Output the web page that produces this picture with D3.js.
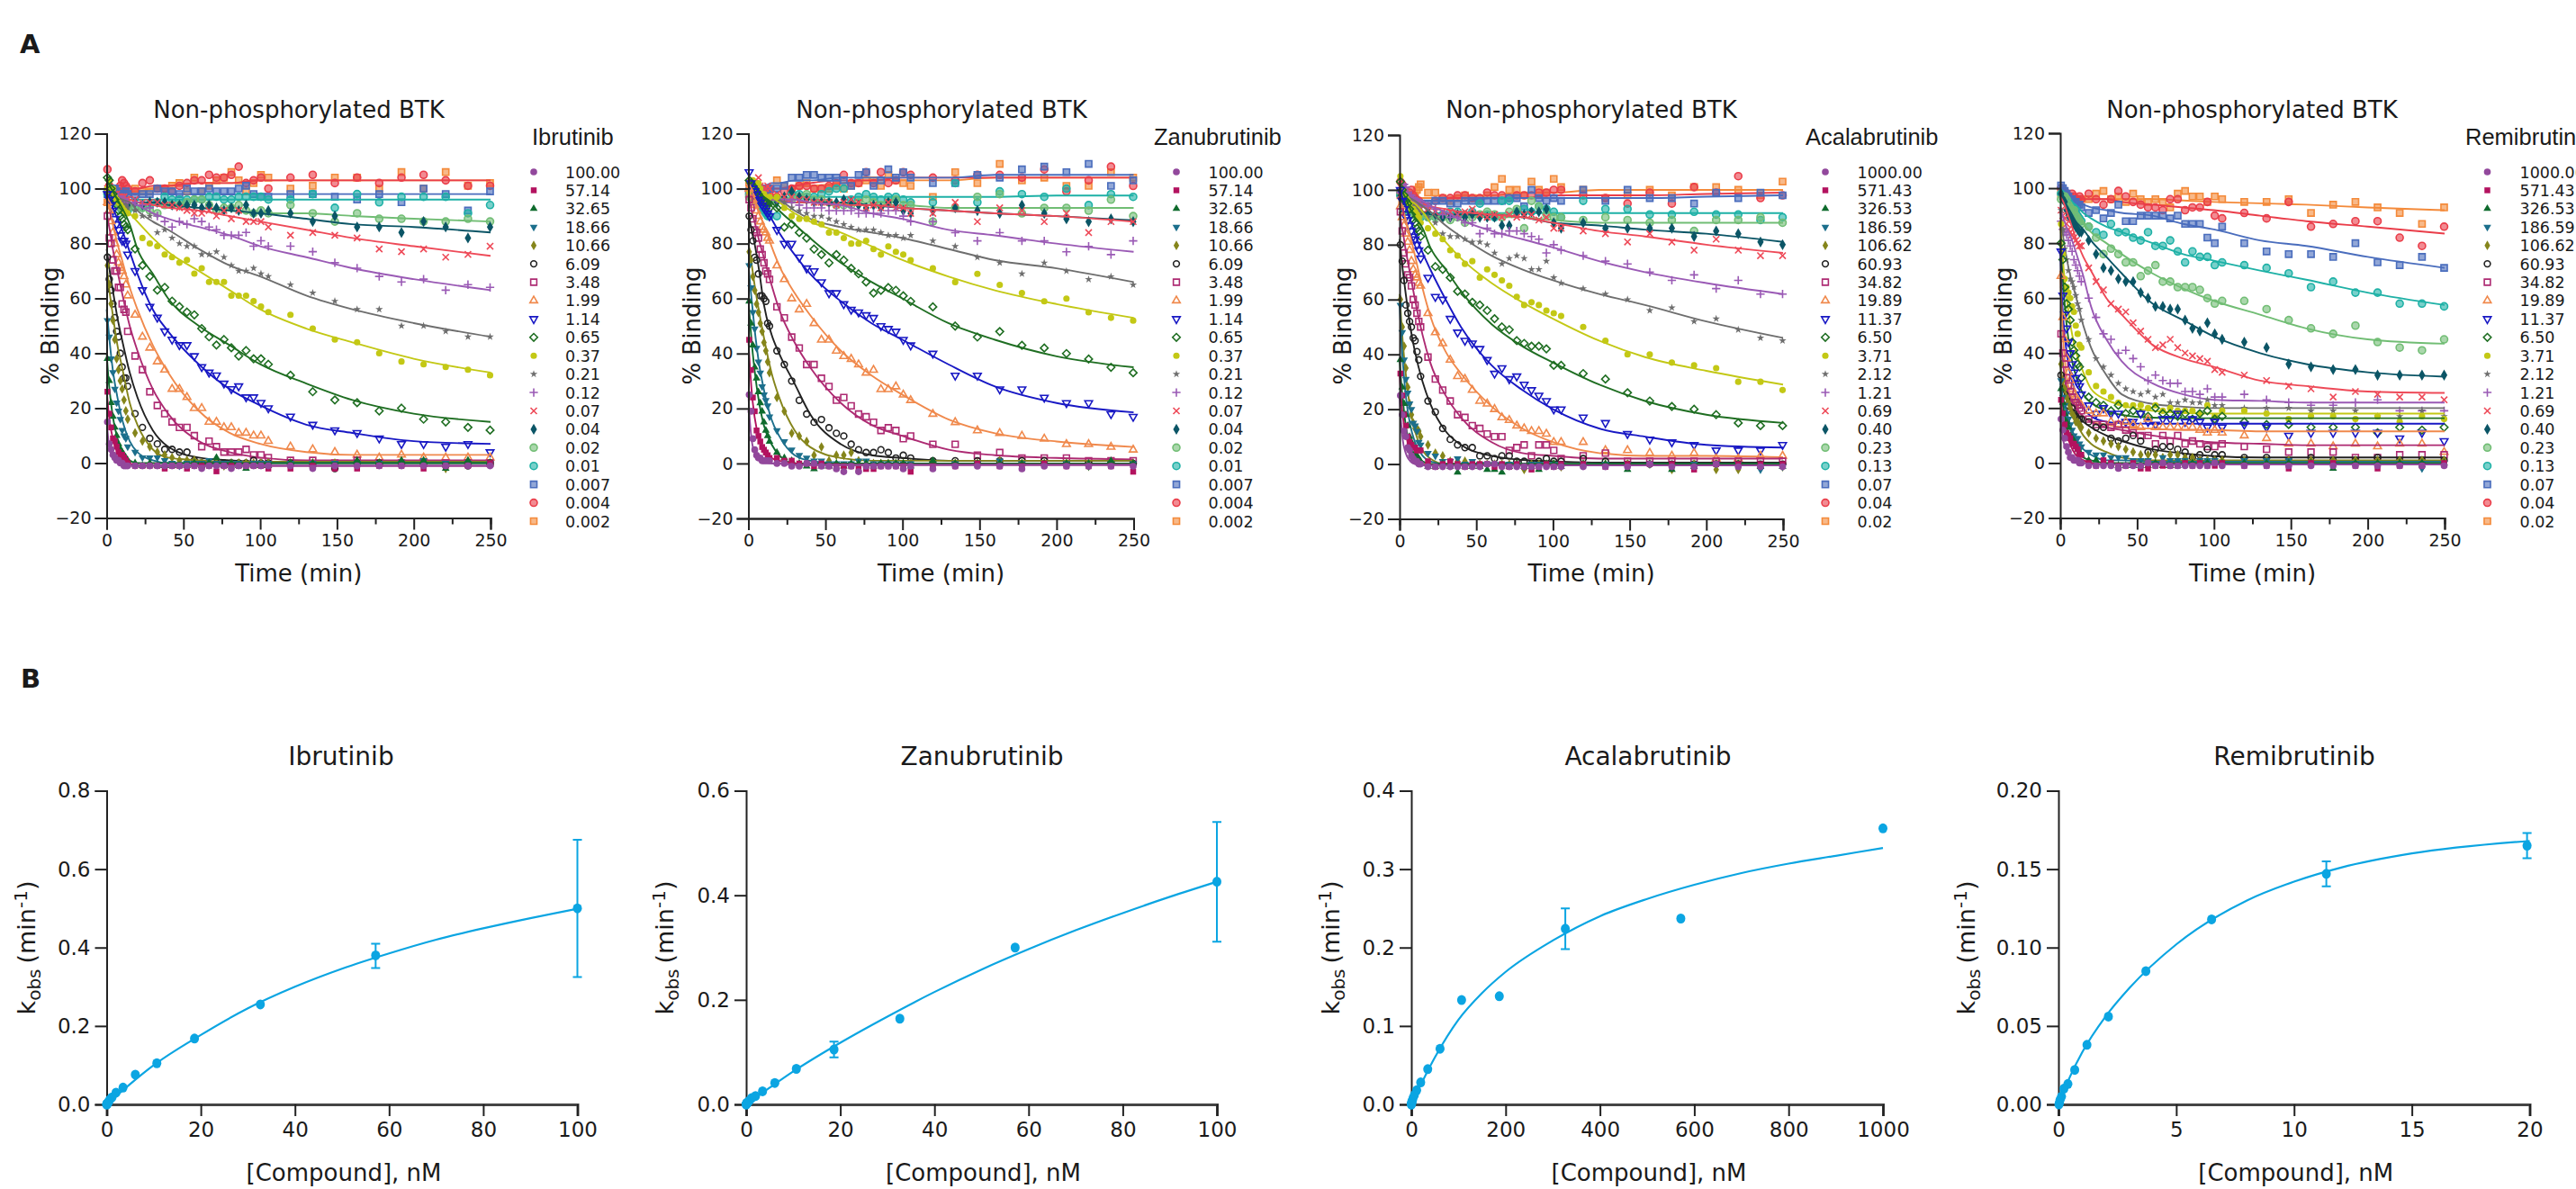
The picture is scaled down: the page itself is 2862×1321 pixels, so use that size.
<!DOCTYPE html>
<html>
<head>
<meta charset="utf-8">
<script src="https://cdn.jsdelivr.net/npm/d3@7"></script>
<style>
html,body{margin:0;padding:0;background:#fff;overflow:hidden}
text{font-family:"DejaVu Sans",sans-serif;fill:#1a1a1a}
</style>
</head>
<body>
<script>
// sampling times of the kinetic reads (min)
const times = [0.5,1.7,2.9,4.1,5.3,6.5,7.7,8.9,10.1,11.3,12.5,13.7,
  18.5,23.3,28.1,33,37.8,42.6,47.4,52.3,57.1,61.9,66.7,71.5,76.4,81.2,86,90.8,95.7,100.5,105.3,
  119.7,134.2,148.6,163.1,177.5,192,206.4,220.8,235.3,249.7];
// times at which the fitted curves were read
const fitTimes = [0,1,2,4,7,10,15,20,30,40,60,80,100,130,160,200,250];

const ibrConc = ["100.00","57.14","32.65","18.66","10.66","6.09","3.48","1.99","1.14","0.65","0.37","0.21","0.12","0.07","0.04","0.02","0.01","0.007","0.004","0.002"];
const zanConc = ibrConc;
const acaConc = ["1000.00","571.43","326.53","186.59","106.62","60.93","34.82","19.89","11.37","6.50","3.71","2.12","1.21","0.69","0.40","0.23","0.13","0.07","0.04","0.02"];
const remConc = acaConc;

const ibrPoints = [
[15,7,5,3,2,1,1,0,0,-1,-1,-1, -1,-1,-1,-1,-1,-1,-1,-1,-1,-2,-1,-1,-1,-2,-1,-1,-1,-1,-1, -1,-2,-1,-1,-1,-1,-1,-1,-1,-1],
[26,18,13,9,8,6,4,3,3,2,1,0, -1,-1,-1,-1,-2,-1,-1,-2,-1,-1,-1,-3,-1,-1,-1,-1,-1,-1,-2, -2,-1,-2,-2,-1,-1,-2,-1,-1,0],
[38,30,22,17,13,10,7,5,4,3,2,1, 0,-1,0,-1,-1,-1,-1,-1,0,-1,0,2,-1,0,-1,-2,-1,-1,-1, 0,0,-1,1,0,1,1,-2,1,0],
[52,46,38,33,27,22,19,16,12,10,9,6, 4,2,2,2,1,0,-1,0,0,0,1,0,0,0,0,-1,0,0,0, 0,0,0,0,0,0,1,0,0,0],
[72,65,58,52,45,38,34,30,27,23,19,16, 11,8,6,4,3,2,1,1,1,0,0,0,-1,0,0,0,0,0,0, 0,0,0,0,0,0,0,-2,0,0],
[75,67,63,58,53,48,46,40,35,31,31,28, 18,13,9,7,5,5,4,4,1,0,0,0,0,0,0,0,1,0,0, 0,-1,-2,0,0,0,0,-1,-1,0],
[90,82,80,74,70,70,64,64,58,56,55,48, 39,34,26,21,18,15,13,13,10,6,8,6,4,4,4,5,3,3,2, 1,1,0,1,0,0,0,0,0,0],
[95,92,88,84,80,76,73,71,70,68,65,61, 54,46,42,37,34,27,27,24,20,20,15,15,13,13,11,11,10,10,8, 6,5,4,3,2,3,2,2,2,2],
[98,96,94,92,89,87,85,83,81,81,80,76, 70,63,57,53,48,45,43,43,39,35,33,32,29,27,28,24,24,22,20, 17,14,12,11,9,7,7,6,7,4],
[104,103,100,98,96,94,92,90,89,87,86,85, 78,72,68,63,64,59,57,55,54,49,46,43,45,42,39,41,38,38,36, 32,26,23,22,19,20,16,15,13,12],
[100,103,99,100,97,96,95,94,93,92,91,91, 90,82,80,79,76,75,73,74,69,71,66,66,66,61,61,61,59,57,55, 54,49,45,44,40,37,36,35,34,32],
[100,99,98,97,96,96,95,95,94,94,94,93, 92,90,90,84,85,82,80,79,79,76,76,77,75,72,70,70,71,69,68, 65,62,59,56,56,50,50,48,46,46],
[100,100,99,98,98,97,97,96,96,96,95,95, 95,94,93,90,88,86,88,87,89,88,86,85,83,83,83,84,79,81,79, 79,77,73,71,68,66,67,63,65,64],
[100,99,99,99,98,98,97,97,97,97,96,96, 96,95,95,95,94,94,93,92,91,91,92,90,92,89,92,88,88,88,86, 83,84,83,82,78,77,78,75,76,79],
[98,98,97,96,96,96,95,95,95,95,95,94, 95,94,95,95,95,94,94,94,94,93,94,93,92,93,92,94,91,91,92, 91,88,90,86,86,84,88,86,82,86],
[99,98,98,97,96,95,94,93,93,93,93,93, 93,93,92,91,94,94,94,95,96,96,94,92,93,93,94,92,91,92,91, 94,91,88,91,89,89,88,88,89,88],
[98,97,97,96,96,95,94,93,92,92,92,92, 93,93,94,95,97,96,96,96,96,96,97,97,96,96,97,97,97,97,96, 96,98,93,98,95,97,97,97,91,94],
[98,99,99,100,100,99,98,98,98,98,99,98, 97,98,98,100,99,99,98,100,99,99,100,99,99,99,100,101,98,97,97, 98,98,97,96,98,95,100,98,92,99],
[107,101,100,100,99,99,100,101,103,102,101,100, 99,102,103,100,100,99,101,102,103,103,105,104,104,105,108,102,103,104,100, 104,105,102,104,102,104,105,103,101,101],
[95,96,96,97,97,98,98,97,98,98,99,98, 100,99,99,100,100,101,102,99,104,99,101,103,104,106,103,99,102,105,104, 100,101,104,104,100,106,100,106,101,102]
];
const ibrFits = [
[16,9,5,2,0,-1,-1,-1,-1,-1,-1,-1,-1,-1,-1,-1,-1],
[27,20,15,9,4,2,0,-1,-1,-1,-1,-1,-1,-1,-1,-1,-1],
[40,32,26,17,9,5,1,0,0,0,0,0,0,0,0,0,0],
[56,50,44,34,24,16,8,4,1,0,0,0,0,0,0,0,0],
[72,67,62,54,43,35,22,14,5,2,1,0.5,0.5,0.5,0.5,0.5,0.5],
[78,74,70,63,53,45,33,24,12,6,2,1,0.5,0.3,0.3,0.3,0.3],
[92,88,85,78,70,62,50,41,27,18,8,4,2,1,1,1,1],
[96,94,92,87,80,74,64,56,43,33,19,11,7,4,3,3,3],
[99,97,96,93,89,85,77,69,56,48,36,27,21,14,11,8,7],
[103,102,101,99,96,93,87,78,69,60,50,43,36,29,23,18,15],
[100,100,99,98,96,94,91,88,82,77,70,63,56,49,44,38,33],
[99,99,98,98,97,96,95,92,88,85,78,72,68,61,56,51,46],
[98,98,97,97,96,96,95,94,91,89,86,83,79,75,71,67,63],
[97,97,97,97,96,96,96,95,94,93,92,90,88,85,82,79,75.5],
[95,95,95,95,95,95,95,95,95,94,93,92,91,89,87,86,84],
[95,95,95,95,95,95,95,94,94,94,93,92,91,91,90,89,88],
[96,96,96,96,96,96,96,96,96,96,96,96,96,96,96,96,96],
[98,98,98,98,98,98,98,98,98,98,98,98,98,98,98,98,98],
[99,99,99,100,100,100,100,100,101,101,102,102,103,103,103,103,103],
[97,97,98,98,98,99,99,99,100,101,102,102,103,103,103,103,103]
];

const zanPoints = [
[25,19,9,5,3,2,2,1,1,1,1,1, 0,0,-1,-1,0,0,-1,-1,-2,-3,-1,-3,-1,-1,-1,-1,-1,-2,-1, -2,-1,-1,-1,-2,-1,-1,-1,-1,-1],
[45,34,24,19,12,10,8,6,5,4,3,2, 2,1,1,0,0,-1,0,-1,-1,-1,-1,-2,-2,-2,-1,-1,-1,-1,-3, -1,-1,0,-1,-1,0,-1,-1,-1,-3],
[59,51,43,35,31,26,22,19,15,12,10,8, 4,2,1,0,-1,-2,-1,-1,0,-1,0,0,0,-1,0,0,0,0,-1, 1,0,0,0,0,0,0,0,1,0],
[72,64,55,49,42,37,33,28,25,23,21,17, 12,8,5,3,2,1,1,0,0,0,0,1,1,0,0,0,0,0,0, 0,0,0,1,0,0,0,-1,0,0],
[77,74,68,63,58,55,51,48,44,41,37,33, 24,19,11,10,8,3,6,1,3,3,4,1,0,0,0,0,0,0,0, 0,0,0,1,0,0,0,-1,0,0],
[90,85,81,75,74,69,61,61,60,59,51,50, 41,36,30,23,18,15,16,13,11,10,7,5,4,4,5,4,2,3,2, 1,1,1,1,1,1,0,0,0,0],
[96,93,89,85,84,82,78,76,73,70,69,67, 57,53,46,42,36,36,31,28,23,24,21,18,17,15,12,13,12,9,10, 7,7,3,4,2,2,2,1,1,1],
[100,98,96,94,92,90,88,86,85,84,82,81, 72,67,60,56,58,51,45,45,41,39,38,36,33,34,27,27,28,25,23, 18,15,12,11,10,9,7,7,6,5],
[106,102,100,99,98,96,95,94,93,92,91,90, 85,80,80,75,71,70,66,62,62,58,56,55,54,53,50,49,48,45,43, 40,32,32,27,27,24,22,22,18,17],
[103,102,101,100,99,98,97,96,95,95,94,93, 93,86,87,84,82,78,76,73,76,74,71,69,66,62,63,64,63,61,59, 57,50,46,48,43,42,40,38,35,33],
[99,103,103,100,101,102,100,98,98,96,96,97, 97,93,90,89,89,88,87,84,84,82,80,80,81,78,76,79,77,76,74, 71,66,69,65,62,59,60,55,53,52],
[100,99,99,98,98,98,97,97,97,97,96,96, 96,95,93,92,91,90,90,89,88,87,86,85,85,85,84,83,83,82,83, 81,79,75,73,69,73,70,67,68,65],
[99,99,98,98,98,97,97,97,96,96,96,96, 96,95,95,94,93,93,93,92,92,92,92,91,91,91,91,92,92,90,88, 88,84,81,84,81,81,77,79,76,81],
[99,98,100,101,100,104,101,100,99,100,101,100, 98,97,97,96,96,95,95,95,94,95,96,95,93,94,93,95,93,93,91, 91,95,88,93,92,88,91,84,88,88],
[99,99,98,97,97,96,96,96,96,95,95,95, 95,97,99,97,96,95,95,95,95,96,95,94,93,94,93,95,95,92,91, 92,93,92,91,94,91,89,88,89,88],
[97,97,96,96,97,98,97,96,96,96,95,95, 96,96,96,97,98,96,96,95,94,94,94,95,96,95,94,95,96,94,94, 88,93,97,98,91,93,93,92,96,90],
[98,98,97,97,96,95,94,93,92,91,90,90, 90,96,98,98,97,97,98,99,100,100,96,97,98,97,96,97,97,96,95, 95,102,95,99,98,97,100,94,98,97],
[99,100,100,100,100,100,99,99,98,99,100,100, 100,101,104,104,105,105,104,104,104,103,101,105,106,101,103,107,104,106,104, 102,102,105,104,107,108,106,109,101,103],
[99,101,102,102,101,100,100,100,99,99,98,98, 97,99,100,101,101,100,100,101,102,105,102,102,106,102,106,102,103,106,105, 104,103,105,105,104,107,99,103,108,101],
[102,100,99,99,98,98,98,99,99,99,99,100, 103,101,99,101,102,100,100,100,101,100,101,102,103,103,101,105,103,102,101, 97,106,102,109,103,104,101,101,106,104]
];
const zanFits = [
[25,15,9,4,2,1,0,0,-0.5,-0.5,-0.5,-0.5,-0.5,-0.5,-0.5,-0.5,-0.5],
[45,35,27,17,9,5,2,1,0,-0.5,-0.5,-0.5,-0.5,-0.5,-0.5,-0.5,-0.5],
[60,52,45,34,22,14,7,3,0,0,0,0,0,0,0,0,0],
[73,66,60,49,36,27,16,10,3,1,0,0,0,0,0,0,0],
[80,77,73,65,55,46,33,24,12,6,2,1,1,1,1,1,1],
[90,88,85,80,70,58,47,40,29,18,7,3,2,1,1,1,1],
[97,95,92,88,81,75,65,56,44,35,22,14,10,5,3,2,1.5],
[99,98,97,95,91,87,79,72,62,54,41,32,25,16,11,8,6],
[102,101,100,98,96,93,89,84,76,69,59,51,45,36,28,22,18.6],
[100,100,100,99,98,97,95,92,87,82,73,66,60,51,45,39,35],
[100,100,100,99,99,98,97,95,91,88,84,79,74,68,63,58,53],
[100,100,100,99,99,98,97,96,92,89,86,84,82,78,74,71,66],
[98,98,98,98,97,97,97,96,96,95,94,91,89,85,83,80,77],
[97,97,97,97,97,96,96,96,95,95,94,94,93,92,91,90,88],
[97,97,97,97,97,96,96,96,95,95,95,94,93,92,91,90,88.5],
[96,96,96,96,96,96,95,95,95,95,94,94,94,93,93,93,93],
[96,96,96,96,96,96,96,96,96,97,97,97,97,97,97,97.5,97.5],
[100,100,100,101,101,101,102,102,103,103,104,104,104,104,105,105,105],
[98,98,98,99,99,99,100,100,101,102,103,103,104,104,104,104,104],
[98,98,98,99,99,99,100,100,101,101,102,103,103,103,104,104,104]
];

const acaPoints = [
[25,18,12,10,6,5,3,2,1,1,0,0, -1,-1,-1,-1,-1,-1,-1,-1,0,0,-1,-1,-1,-1,-1,-1,-1,-1,-1, -1,-1,-1,0,-1,-1,0,-1,-1,-1],
[33,25,18,14,10,8,7,6,6,5,5,5, 1,-1,0,1,0,-1,0,0,0,-1,0,-1,0,-1,-2,-1,0,-1,0, 0,-1,0,0,0,-2,0,0,0,0],
[38,28,22,18,14,10,8,6,4,3,2,1, -1,-1,0,-1,-3,-1,-1,-1,-2,-2,-3,-1,0,-1,-1,-2,0,0,-1, 0,0,-2,0,-2,-1,0,0,-1,-1],
[58,48,38,31,26,22,20,15,14,12,8,7, 4,3,1,1,2,0,1,0,0,0,0,0,0,-1,0,0,0,0,0, 0,0,0,0,-1,0,0,0,-2,-1],
[60,50,43,35,28,22,18,15,13,13,12,10, 7,4,3,1,1,1,0,0,0,0,0,0,0,-2,0,0,0,0,-1, 0,0,0,0,-2,0,-2,-2,-1,-1],
[80,74,67,58,55,52,50,46,45,41,38,32, 23,19,13,9,7,6,6,3,3,2,3,3,1,1,0,1,2,1,1, 2,1,0,0,0,0,0,0,0,0],
[92,85,77,73,69,68,65,60,58,55,52,50, 39,31,27,23,18,17,14,13,11,10,10,5,6,7,3,7,7,5,2, 3,4,1,1,1,1,1,1,1,1],
[94,90,87,84,81,78,74,71,69,68,66,65, 55,48,44,38,32,31,27,23,22,20,17,16,14,13,12,12,11,8,8, 8,5,5,4,3,4,2,2,3,3],
[100,96,93,90,89,87,85,83,82,80,78,75, 68,61,60,53,48,45,44,42,38,33,35,31,32,29,27,25,23,20,20, 17,15,11,9,8,7,5,5,5,7],
[103,100,98,96,95,93,91,89,88,86,85,83, 78,72,71,68,63,62,59,58,56,53,50,49,45,44,43,43,42,36,36, 33,31,26,23,21,20,18,15,14,14],
[105,100,98,97,96,95,93,93,92,91,90,88, 86,84,82,78,76,73,74,68,71,69,67,65,61,58,59,58,56,55,54, 50,45,40,40,37,36,35,30,30,27],
[100,98,98,97,96,95,94,94,94,93,93,92, 90,88,84,83,83,82,81,81,80,77,73,75,76,75,71,71,74,68,66, 64,62,60,56,57,52,53,49,46,45],
[99,99,102,101,99,98,98,97,96,96,95,94, 94,93,91,90,90,88,88,84,86,84,84,85,85,84,83,82,77,80,78, 76,74,73,70,67,69,64,67,62,62],
[98,100,101,100,98,97,97,96,96,95,94,93, 93,92,92,92,91,92,93,91,90,91,90,91,90,91,91,89,90,86,86, 85,84,81,84,81,78,82,78,76,76],
[98,97,96,96,95,95,94,94,93,93,92,92, 92,91,90,90,91,90,91,90,90,90,87,87,92,91,92,92,93,88,86, 88,86,86,86,86,83,85,84,81,80],
[99,98,98,97,96,95,94,93,91,90,90,91, 90,90,90,89,90,88,90,91,92,91,90,92,93,86,96,94,91,90,90, 89,90,89,88,89,85,89,89,90,88],
[98,97,97,96,95,94,93,92,91,90,90,90, 90,90,91,92,92,91,92,95,91,90,96,96,92,93,92,94,93,92,90, 96,93,93,91,91,92,91,91,89,90],
[99,98,97,97,96,96,96,96,95,95,95,95, 95,96,96,95,95,96,96,96,96,96,96,97,97,94,100,97,96,97,96, 100,96,100,97,97,95,99,97,99,98],
[103,102,100,98,97,99,100,98,97,96,96,95, 94,96,97,97,98,98,97,97,99,98,98,97,98,98,98,99,99,100,100, 98,97,95,99,95,101,99,105,97,98],
[98,96,97,97,98,97,98,98,98,100,101,102, 99,99,97,96,97,98,97,96,98,101,104,100,100,98,103,100,99,104,101, 100,97,98,100,98,101,101,100,98,103]
];
const acaFits = [
[24,15,9,4,1,0,-0.5,-0.5,-0.5,-0.5,-0.5,-0.5,-0.5,-0.5,-0.5,-0.5,-0.5],
[33,24,18,11,5,2,0,-0.5,-0.5,-0.5,-0.5,-0.5,-0.5,-0.5,-0.5,-0.5,-0.5],
[38,30,24,14,7,3,1,0,0,0,0,0,0,0,0,0,0],
[58,47,38,25,14,8,3,1,0,0,0,0,0,0,0,0,0],
[62,53,45,33,20,12,5,2,0,0,0,0,0,0,0,0,0],
[82,76,71,62,50,41,30,22,12,7,3,1.5,1,0.5,0.5,0.5,0.5],
[92,88,85,78,69,60,47,37,25,17,8,4,3,2,2,2,2],
[95,94,93,89,83,76,64,54,41,33,21,13,8,4,3,3,2.5],
[101,99,97,94,89,84,77,71,60,50,36,27,20,13,10,7,6],
[101,100,99,97,93,90,86,79,71,63,51,43,37,29,23,18,15],
[100,99,99,98,96,95,92,88,81,75,66,59,53,45,39,34,29],
[99,99,99,98,97,96,94,92,87,83,76,71,67,62,58,52,46],
[98,98,98,98,97,97,96,94,92,89,85,82,79,74,70,66,62],
[97,97,97,97,96,96,95,94,93,92,91,90,88,85,83,80,77],
[92,92,92,92,92,92,92,91,91,91,91,90,88,87,85.5,84,81],
[91,91,91,91,91,91,91,90,90,90,90,90,89,88,88,88,88],
[92,92,91.5,91.5,91.5,91.5,91.5,91.5,91.5,91.5,91.5,91.5,91.5,91.5,91.5,91.5,91.5],
[96,96,96,96,96,96,96,96,96,96,97,97,97,97,97,97.5,98],
[96,96,96,96,96,96,96,96,97,97,97,97,98,98,98,98.5,99],
[97,97,97,97,97,97,97,97,97,98,98,99,99,100,100,100,100]
];

const remPoints = [
[16,12,9,6,4,2,2,1,1,1,0,0, -1,-1,-1,-1,-2,-1,-1,-1,0,-1,0,-1,-1,-1,-1,-1,-1,0,-1, -1,-1,-1,-1,-1,-1,-1,-1,-1,-1],
[23,18,14,11,10,9,7,7,6,5,3,3, 0,-1,1,0,-1,-1,0,-2,-2,-1,-1,-1,-1,0,-1,0,-1,-1,0, -1,-1,-2,0,0,-1,-2,-1,-1,0],
[27,22,18,15,13,10,9,8,6,5,4,3, 1,1,0,0,-1,-1,-1,-1,-1,0,-1,-1,-1,0,0,0,0,0,0, 0,0,0,0,-2,0,0,0,0,0],
[30,24,21,18,16,14,12,10,9,9,7,6, 4,3,3,2,2,2,1,1,1,0,2,1,1,1,0,1,1,1,0, 1,1,1,0,0,0,0,0,-2,0],
[36,30,27,24,22,20,18,17,15,15,14,13, 11,9,8,7,6,5,4,3,3,3,2,3,3,2,2,1,1,1,1, 1,1,1,1,1,1,1,1,1,1],
[32,27,25,23,21,19,20,18,17,16,16,16, 15,13,13,9,8,9,10,8,4,5,6,6,5,4,2,3,5,3,3, 2,2,1,2,1,1,2,1,1,1],
[47,40,36,31,28,26,24,22,22,21,20,19, 16,14,14,13,14,12,11,10,10,7,10,8,10,7,8,7,6,6,7, 6,5,4,4,4,2,2,3,3,3],
[68,53,45,38,33,30,27,25,24,23,22,21, 19,18,18,15,14,15,14,13,16,13,13,13,13,13,13,12,11,12,11, 10,9,7,7,6,7,6,7,7,4],
[77,61,54,49,44,40,36,33,31,29,28,25, 21,18,20,18,18,15,15,18,15,14,16,16,18,15,16,15,13,15,13, 14,13,10,11,11,11,11,9,11,8],
[80,74,64,58,56,52,44,41,39,36,35,31, 24,22,21,19,21,18,19,18,17,20,18,18,17,18,16,18,19,16,17, 15,14,14,13,13,13,11,13,12,13],
[87,76,67,64,62,60,57,55,50,47,43,42, 33,28,26,24,22,21,21,21,20,21,19,20,19,19,19,18,21,17,19, 19,18,16,17,17,16,17,15,17,16],
[92,85,78,74,70,67,66,64,61,58,56,52, 45,38,35,32,29,27,26,25,26,24,25,22,22,23,22,22,23,21,21, 20,20,20,19,19,19,17,17,19,17],
[88,85,84,83,81,79,77,74,72,70,68,66, 60,53,47,45,40,41,38,35,30,32,30,29,29,26,26,25,27,24,24, 25,23,22,21,21,22,23,19,19,19],
[92,90,89,87,85,84,83,82,81,80,79,79, 71,66,63,58,56,55,51,48,45,42,43,45,42,40,39,38,37,34,33, 32,30,28,27,24,26,25,24,24,23],
[98,96,95,92,90,89,88,87,86,85,84,84, 81,76,71,70,67,66,66,62,60,57,57,56,56,52,49,48,51,47,45, 44,42,36,35,34,34,32,32,32,32],
[96,97,97,96,94,93,92,92,90,89,88,87, 86,82,76,78,76,73,73,68,70,72,66,66,64,64,64,63,60,58,59, 59,56,52,49,47,50,44,42,41,45],
[98,97,97,96,95,94,93,92,91,90,89,88, 86,84,83,87,84,84,82,81,84,79,79,81,77,73,77,75,75,72,73, 72,71,69,64,66,62,62,58,58,57],
[101,100,99,98,97,96,96,95,95,94,94,93, 91,92,89,91,94,88,88,90,90,90,90,89,90,87,87,87,82,80,86, 80,77,76,76,75,80,73,72,75,71],
[100,99,99,98,97,97,98,97,96,96,97,96, 98,96,94,96,99,97,95,94,93,93,92,96,96,92,93,93,95,90,89, 91,89,95,86,87,88,88,82,79,86],
[98,98,97,96,96,96,95,95,95,95,96,96, 96,98,99,96,97,95,98,96,95,96,95,93,98,99,97,97,95,97,96, 95,95,96,91,94,95,93,91,87,93]
];
const remFits = [
[17,12,8,5,2,1,0,-0.5,-0.5,-0.5,-0.5,-0.5,-0.5,-0.5,-0.5,-0.5,-0.5],
[24,20,16,11,6,3,1,0,-0.5,-0.5,-0.5,-0.5,-0.5,-0.5,-0.5,-0.5,-0.5],
[27,23,20,14,8,5,2,1,0,0,0,0,0,0,0,0,0],
[29,26,23,19,13,9,5,3,1,1,0.5,0.5,0.5,0.5,0.5,0.5,0.5],
[36,32,29,24,19,15,10,7,4,2,1,1,1,1,1,1,1],
[33,30,27,23,20,18,15,13,10,8,5,3.5,2.5,2,2,2,2],
[48,41,35,28,23,20,17,15,13,12,10,8.5,7.5,7,6.5,6.5,6.5],
[70,55,44,32,24,20,17,15,14,13,12.5,12,12,11.5,11.5,11.5,11.5],
[78,62,52,41,31,26,20,17,15,14.5,14.3,14.3,14.3,14.3,14.3,14.3,14.3],
[81,72,64,51,39,32,25,22,19,17.5,16.5,16.3,16.3,16.3,16.3,16.3,16.3],
[87,80,72,61,49,41,33,27,23,21,19,18.3,18,18,18,18,18],
[92,87,82,75,67,61,50,42,32,25,21.5,20.5,20,20,20,20,20],
[93,91,89,86,82,77,68,57,45,37,29,25,23,22.6,22,22,22],
[97,96,95,92,87,82,75,70,60,54,43,38,35,30,28,26,25.5],
[98,97,96,94,91,88,85,81,75,69,58,52,46,40,36,33,31.4],
[97,97,96,95,93,90,87,84,80,76,69,63.5,59,54,49,45,43.4],
[98,97,97,96,95,94,91,89,86,84,80,76,73.6,70,66.7,62,57.5],
[99,99,98,97,96,95,94,93,92,91,90,87,85,81,79,75,71],
[97,97,97,97,97,97,96,96,96,95,94,93,92,90,88,86,83.5],
[96,96,96,96,96,96,96,96,96,96,96,95.5,95,94.5,94,93,92]
];

// panel B: kobs against concentration
const ibrConcB = [100,57.14,32.65,18.66,10.66,6.09,3.48,1.99,1.14,0.65,0.37,0.21,0.12,0.07,0.04,0.02,0.01];
const ibrKobs = [0.5,0.38,0.255,0.168,0.105,0.076,0.043,0.03,0.018,0.012,0.006,0.003,0.002,0.001,0.001,0,0];
const ibrErrLow = [0.325,0.348,null,null,null,null,null,null,null,null,null,null,null,null,null,null,null];
const ibrErrHigh = [0.675,0.41,null,null,null,null,null,null,null,null,null,null,null,null,null,null,null];
const ibrCurveX = [0,5,10,20,30,40,50,60,70,80,90,100];
const ibrCurveY = [0,0.052,0.1,0.177,0.245,0.3,0.346,0.385,0.42,0.449,0.475,0.499];

const zanConcB = [100,57.14,32.65,18.66,10.66,6.09,3.48,1.99,1.14,0.65,0.37,0.21,0.12,0.07,0.04,0.02,0.01];
const zanKobs = [0.426,0.3,0.164,0.105,0.068,0.041,0.025,0.016,0.012,0.007,0.004,0.003,0.002,0.001,0.001,0,0];
const zanErrLow = [0.311,null,null,0.09,null,null,null,null,null,null,null,null,null,null,null,null,null];
const zanErrHigh = [0.54,null,null,0.12,null,null,null,null,null,null,null,null,null,null,null,null,null];
const zanCurveX = [0,5,10,20,30,40,50,60,70,80,90,100];
const zanCurveY = [0,0.032,0.063,0.118,0.168,0.215,0.258,0.297,0.333,0.366,0.397,0.426];

const acaConcB = [1000,571.43,326.53,186.59,106.62,60.93,34.82,19.89,11.37,6.5,3.71,2.12,1.21,0.69,0.4,0.23,0.13];
const acaKobs = [0.352,0.237,0.224,0.138,0.133,0.071,0.045,0.028,0.018,0.012,0.008,0.005,0.003,0.002,0.001,0,0];
const acaErrLow = [null,null,0.198,null,null,null,null,null,null,null,null,null,null,null,null,null,null];
const acaErrHigh = [null,null,0.25,null,null,null,null,null,null,null,null,null,null,null,null,null,null];
const acaCurveX = [0,50,100,150,200,300,400,500,600,700,800,900,1000];
const acaCurveY = [0,0.06,0.108,0.142,0.169,0.209,0.24,0.262,0.28,0.295,0.307,0.317,0.327];

const remConcB = [19.89,11.37,6.5,3.71,2.12,1.21,0.69,0.4,0.23,0.13,0.07,0.04,0.02];
const remKobs = [0.165,0.147,0.118,0.085,0.056,0.038,0.022,0.013,0.01,0.005,0.003,0.001,0];
const remErrLow = [0.157,0.139,null,null,null,null,null,null,null,null,null,null,null];
const remErrHigh = [0.173,0.155,null,null,null,null,null,null,null,null,null,null,null];
const remCurveX = [0,0.5,1,2,3,5,8,10,12,15,20];
const remCurveY = [0,0.018,0.033,0.056,0.074,0.102,0.13,0.142,0.151,0.16,0.168];

// marker look per series, same order as the legend
const seriesColor = ["#92489c","#b3125f","#0f6b2d","#1c6f8c","#85851b","#222222","#ad2a72","#f0894c","#1818c4","#1f6e22","#c3c815","#6e6e6e","#9a5ab5","#ee4a58","#0b5566","#71bd74","#1eb1a6","#4a6dbd","#ea3d49","#f48a3a"];
const seriesSymbol = [d3.symbolCircle,d3.symbolSquare,d3.symbolTriangle,"down",d3.symbolDiamond,d3.symbolCircle,d3.symbolSquare2,d3.symbolTriangle2,"down2",d3.symbolDiamond2,d3.symbolCircle,d3.symbolStar,d3.symbolPlus,d3.symbolTimes,d3.symbolDiamond,d3.symbolCircle,d3.symbolCircle,d3.symbolSquare,d3.symbolCircle,d3.symbolSquare];
const seriesSize = [46,42,32,32,34,36,58,52,52,46,40,22,30,34,44,50,50,50,50,50];
// 0 filled, 1 open, 2 half filled
const seriesFill = [0,0,0,0,0,1,1,1,1,1,0,0,1,1,0,2,2,2,2,2];

const svg = d3.select("body").append("svg").attr("width",2862).attr("height",1321);

function symbolPath(i){
    var s = seriesSymbol[i];
    if(s==="down") s = d3.symbolTriangle;
    if(s==="down2") s = d3.symbolTriangle2;
    return d3.symbol().type(s).size(seriesSize[i])();
}
function marker(sel,i,k){
    var flip = seriesSymbol[i]==="down"||seriesSymbol[i]==="down2";
    sel.attr("d",symbolPath(i))
        .attr("fill",seriesFill[i]==1?"none":seriesColor[i])
        .attr("fill-opacity",seriesFill[i]==2?0.6:1)
        .attr("stroke",seriesFill[i]==0?"none":seriesColor[i])
        .attr("stroke-width",1.6)
        .attr("transform",function(d){
            return k(d)+(flip?" rotate(180)":"");
        });
}

function kineticPanel(cfg){
    var x = d3.scaleLinear().domain([0,250]).range([cfg.x0,cfg.x1]);
    var y = d3.scaleLinear().domain([-20,120]).range([cfg.yb,cfg.yt]);
    var line = d3.line().x(function(d){return x(d[0])}).y(function(d){return y(d[1])}).curve(d3.curveMonotoneX);
    var g = svg.append("g");

    // low concentrations go down first so the top of the legend sits on top
    d3.range(19,-1,-1).forEach(function(i){
        g.append("path")
            .attr("d",line(fitTimes.map(function(t,j){return [t,cfg.fits[i][j]]})))
            .attr("fill","none").attr("stroke",seriesColor[i]).attr("stroke-width",1.9);
        g.selectAll(null).data(times.map(function(t,j){return [t,cfg.points[i][j]]}))
            .join("path")
            .call(marker,i,function(d){return "translate("+x(d[0])+","+y(d[1])+")"});
    });

    var xa = svg.append("g").attr("transform","translate(0,"+cfg.yb+")")
        .call(d3.axisBottom(x).tickValues([0,50,100,150,200,250]).tickSize(13).tickPadding(5).tickFormat(d3.format("d")));
    var xm = svg.append("g").attr("transform","translate(0,"+cfg.yb+")")
        .call(d3.axisBottom(x).tickValues([25,75,125,175,225]).tickSize(7).tickFormat(""));
    var ya = svg.append("g").attr("transform","translate("+cfg.x0+",0)")
        .call(d3.axisLeft(y).tickValues(d3.range(-20,121,20)).tickSize(13).tickPadding(4).tickFormat(d3.format("d")));
    [xa,xm,ya].forEach(function(a){
        a.selectAll("path").attr("stroke","#222").attr("stroke-width",2);
        a.selectAll("line").attr("stroke","#222").attr("stroke-width",2);
        a.selectAll("text").attr("font-size",19).attr("font-family","DejaVu Sans").attr("fill","#1a1a1a");
    });

    svg.append("text").attr("x",cfg.titleX).attr("y",131).attr("text-anchor","middle").attr("font-size",26).text("Non-phosphorylated BTK");
    svg.append("text").attr("x",(cfg.x0+cfg.x1)/2).attr("y",646).attr("text-anchor","middle").attr("font-size",26).text("Time (min)");
    svg.append("text").attr("transform","translate("+(cfg.x0-54)+",362) rotate(-90)").attr("text-anchor","middle").attr("font-size",26).text("% Binding");

    // legend
    svg.append("text").attr("x",cfg.legTitleX).attr("y",161).attr("font-size",25.5)
        .style("font-family","'Liberation Sans'").text(cfg.name);
    var ly = d3.scalePoint().domain(d3.range(20)).range([191,579]);
    cfg.conc.forEach(function(c,i){
        svg.append("path").datum(i).call(marker,i,function(d){return "translate("+cfg.legSym+","+ly(d)+")"});
        svg.append("text").attr("x",cfg.legText).attr("y",ly(i)+6.5).attr("font-size",17.5).text(c);
    });
}

function kobsPanel(cfg){
    var x = d3.scaleLinear().domain([0,cfg.xMax]).range([cfg.x0,cfg.x1]);
    var y = d3.scaleLinear().domain([0,cfg.yMax]).range([1227,878.5]);
    var col = "#0ba5e2";
    var line = d3.line().x(function(d){return x(d[0])}).y(function(d){return y(d[1])}).curve(d3.curveMonotoneX);
    var g = svg.append("g");

    var xa = g.append("g").attr("transform","translate(0,1227)")
        .call(d3.axisBottom(x).tickValues(cfg.xTicks).tickSize(13).tickPadding(7).tickFormat(d3.format("d")));
    var ya = g.append("g").attr("transform","translate("+cfg.x0+",0)")
        .call(d3.axisLeft(y).tickValues(cfg.yTicks).tickSize(13).tickPadding(5).tickFormat(d3.format(cfg.yFmt)));
    xa.selectAll("path").attr("stroke","#444").attr("stroke-width",3);
    ya.selectAll("path").attr("stroke","#222").attr("stroke-width",2);
    [xa,ya].forEach(function(a){
        a.selectAll("line").attr("stroke","#222").attr("stroke-width",2);
        a.selectAll("text").attr("font-size",23).attr("font-family","DejaVu Sans").attr("fill","#1a1a1a");
    });

    g.append("path").attr("d",line(cfg.curveX.map(function(v,i){return [v,cfg.curveY[i]]})))
        .attr("fill","none").attr("stroke",col).attr("stroke-width",2.2);

    cfg.conc.forEach(function(c,i){
        if(cfg.low[i]!=null){
            g.append("path")
                .attr("d","M"+(x(c)-5)+","+y(cfg.low[i])+"h10M"+(x(c)-5)+","+y(cfg.high[i])+"h10M"+x(c)+","+y(cfg.low[i])+"V"+y(cfg.high[i]))
                .attr("fill","none").attr("stroke",col).attr("stroke-width",2);
        }
    });
    g.selectAll("ellipse.pt").data(cfg.conc.map(function(c,i){return [c,cfg.kobs[i]]})).join("ellipse")
        .attr("cx",function(d){return x(d[0])}).attr("cy",function(d){return y(d[1])})
        .attr("rx",5).attr("ry",5.5).attr("fill",col);

    svg.append("text").attr("x",cfg.titleX).attr("y",850).attr("text-anchor","middle").attr("font-size",28).text(cfg.name);
    svg.append("text").attr("x",(cfg.x0+cfg.x1)/2+2).attr("y",1312).attr("text-anchor","middle").attr("font-size",26).text("[Compound], nM");

    var lab = svg.append("text").attr("transform","translate("+cfg.labX+",1053) rotate(-90)").attr("text-anchor","middle").attr("font-size",27);
    lab.append("tspan").text("k");
    lab.append("tspan").attr("font-size",20).attr("dy",6).text("obs");
    lab.append("tspan").attr("dy",-6).attr("dx",6).text("(min");
    lab.append("tspan").attr("font-size",20).attr("dy",-9).text("-1");
    lab.append("tspan").attr("dy",9).text(")");
}

svg.append("text").attr("x",22).attr("y",59).attr("font-size",29).attr("font-weight","bold").text("A");
svg.append("text").attr("x",23).attr("y",764).attr("font-size",29).attr("font-weight","bold").text("B");

kineticPanel({name:"Ibrutinib",conc:ibrConc,points:ibrPoints,fits:ibrFits,x0:118.5,x1:545,yb:575.5,yt:148.5,titleX:332,legTitleX:591,legSym:593,legText:628});
kineticPanel({name:"Zanubrutinib",conc:zanConc,points:zanPoints,fits:zanFits,x0:831.5,x1:1259.5,yb:576,yt:148.5,titleX:1046,legTitleX:1282,legSym:1307,legText:1342.5});
kineticPanel({name:"Acalabrutinib",conc:acaConc,points:acaPoints,fits:acaFits,x0:1555,x1:1981,yb:576.5,yt:150,titleX:1768,legTitleX:2006,legSym:2028,legText:2063.5});
kineticPanel({name:"Remibrutinib",conc:remConc,points:remPoints,fits:remFits,x0:2289,x1:2716,yb:575.5,yt:148,titleX:2502,legTitleX:2739,legSym:2763.5,legText:2799.5});

kobsPanel({name:"Ibrutinib",conc:ibrConcB,kobs:ibrKobs,low:ibrErrLow,high:ibrErrHigh,curveX:ibrCurveX,curveY:ibrCurveY,x0:118.5,x1:641.5,xMax:100,yMax:0.8,xTicks:[0,20,40,60,80,100],yTicks:[0,0.2,0.4,0.6,0.8],yFmt:".1f",titleX:379,labX:39});
kobsPanel({name:"Zanubrutinib",conc:zanConcB,kobs:zanKobs,low:zanErrLow,high:zanErrHigh,curveX:zanCurveX,curveY:zanCurveY,x0:829,x1:1352,xMax:100,yMax:0.6,xTicks:[0,20,40,60,80,100],yTicks:[0,0.2,0.4,0.6],yFmt:".1f",titleX:1091,labX:748});
kobsPanel({name:"Acalabrutinib",conc:acaConcB,kobs:acaKobs,low:acaErrLow,high:acaErrHigh,curveX:acaCurveX,curveY:acaCurveY,x0:1568,x1:2092,xMax:1000,yMax:0.4,xTicks:[0,200,400,600,800,1000],yTicks:[0,0.1,0.2,0.3,0.4],yFmt:".1f",titleX:1831,labX:1488});
kobsPanel({name:"Remibrutinib",conc:remConcB,kobs:remKobs,low:remErrLow,high:remErrHigh,curveX:remCurveX,curveY:remCurveY,x0:2287,x1:2810.5,xMax:20,yMax:0.2,xTicks:[0,5,10,15,20],yTicks:[0,0.05,0.1,0.15,0.2],yFmt:".2f",titleX:2549,labX:2194});
</script>
</body>
</html>
